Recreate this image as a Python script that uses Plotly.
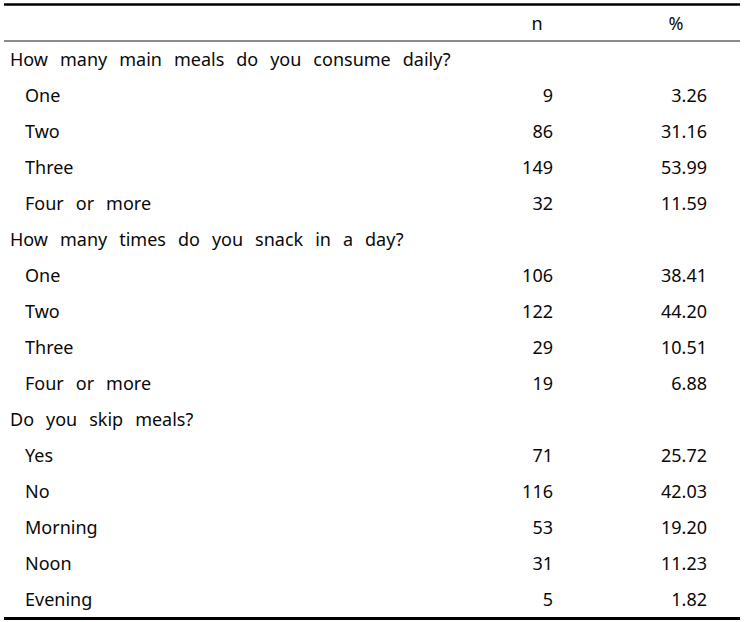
import plotly.graph_objects as go

# ---- data ----
row_labels = [
    "How many main meals do you consume daily?",
    "One", "Two", "Three", "Four or more",
    "How many times do you snack in a day?",
    "One", "Two", "Three", "Four or more",
    "Do you skip meals?",
    "Yes", "No", "Morning", "Noon", "Evening",
]
is_header = [True, False, False, False, False,
             True, False, False, False, False,
             True, False, False, False, False, False]
n_values = [None, 9, 86, 149, 32, None, 106, 122, 29, 19, None, 71, 116, 53, 31, 5]
pct_values = [None, "3.26", "31.16", "53.99", "11.59", None, "38.41", "44.20", "10.51", "6.88",
              None, "25.72", "42.03", "19.20", "11.23", "1.82"]
col_headers = ["n", "%"]

FONT = dict(family="Noto Sans, Open Sans, sans-serif", size=18, color="#0a0a0a")
WIDE = "\u2002\u2009"  # the source typesetting uses wide word spacing


def wide(s):
    return s.replace(" ", WIDE)


rows = list(range(len(row_labels)))
YOFF = 0.04  # tiny vertical nudge of text baseline

fig = go.Figure()

fig.add_trace(go.Scatter(
    x=[10 for r, h in zip(rows, is_header) if h],
    y=[r + YOFF for r, h in zip(rows, is_header) if h],
    text=[wide(l) for l, h in zip(row_labels, is_header) if h],
    mode="text", textposition="middle right", textfont=FONT, hoverinfo="skip"))
fig.add_trace(go.Scatter(
    x=[25 for r, h in zip(rows, is_header) if not h],
    y=[r + YOFF for r, h in zip(rows, is_header) if not h],
    text=[wide(l) for l, h in zip(row_labels, is_header) if not h],
    mode="text", textposition="middle right", textfont=FONT, hoverinfo="skip"))
fig.add_trace(go.Scatter(
    x=[553 for v in n_values if v is not None],
    y=[r + YOFF for r, v in zip(rows, n_values) if v is not None],
    text=[str(v) for v in n_values if v is not None],
    mode="text", textposition="middle left", textfont=FONT, hoverinfo="skip"))
fig.add_trace(go.Scatter(
    x=[707 for v in pct_values if v is not None],
    y=[r + YOFF for r, v in zip(rows, pct_values) if v is not None],
    text=[v for v in pct_values if v is not None],
    mode="text", textposition="middle left", textfont=FONT, hoverinfo="skip"))
fig.add_trace(go.Scatter(
    x=[537, 676], y=[-1 + YOFF, -1 + YOFF], text=col_headers,
    mode="text", textposition="middle center", textfont=FONT, hoverinfo="skip"))

# rules: top, below header, bottom (row units: pixel = 60 + 36*row)
rule_rows = [-1.543, -0.528, 15.514]
rule_colors = ["#000000", "#666666", "#000000"]
rule_widths = [2.4, 1.6, 3]
for ry, rc, rw in zip(rule_rows, rule_colors, rule_widths):
    fig.add_trace(go.Scatter(x=[4, 740], y=[ry, ry], mode="lines",
                             line=dict(color=rc, width=rw), hoverinfo="skip",
                             cliponaxis=False))

fig.update_layout(
    width=752, height=622, margin=dict(l=0, r=0, t=0, b=0),
    paper_bgcolor="white", plot_bgcolor="white", showlegend=False,
    xaxis=dict(range=[0, 752], visible=False, fixedrange=True, showgrid=False, zeroline=False),
    yaxis=dict(range=[15.611, -1.6667], visible=False, fixedrange=True, showgrid=False, zeroline=False),
)

fig.write_html("out.html", config={"displayModeBar": False, "staticPlot": True},
               post_script="document.documentElement.style.overflow='hidden';document.body.style.margin='0';document.body.style.overflow='hidden';")
